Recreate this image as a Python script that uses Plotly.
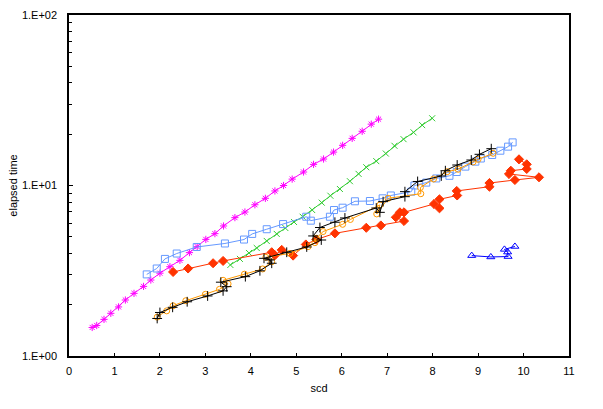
import plotly.graph_objects as go

# ---- data ----
magenta_x = [0.51, 0.61, 0.77, 0.92, 1.09, 1.24, 1.43, 1.64, 1.80, 2.00, 2.22, 2.44, 2.65, 2.82, 3.01,
             3.21, 3.40, 3.65, 3.87, 4.09, 4.32, 4.53, 4.72, 4.91, 5.16, 5.38, 5.60, 5.82, 6.02, 6.23,
             6.45, 6.65, 6.81]
magenta_y = [1.47, 1.51, 1.64, 1.78, 1.94, 2.13, 2.33, 2.56, 2.79, 3.06, 3.34, 3.64, 4.04, 4.38, 4.83,
             5.22, 5.79, 6.48, 6.99, 7.71, 8.41, 9.29, 10.0, 10.9, 12.0, 13.3, 14.3, 15.7, 17.2, 18.9,
             20.8, 22.9, 24.5]

green_x = [3.55, 3.76, 3.96, 4.13, 4.35, 4.57, 4.76, 4.95, 5.14, 5.35, 5.56, 5.75, 5.96, 6.18, 6.37,
           6.54, 6.76, 6.97, 7.16, 7.36, 7.58, 7.77, 7.99]
green_y = [3.42, 3.71, 4.02, 4.30, 4.73, 5.20, 5.63, 6.11, 6.56, 7.18, 7.93, 8.71, 9.54, 10.6, 11.7,
           12.8, 13.9, 15.4, 17.1, 18.7, 20.5, 22.6, 24.8]

lblue_x = [1.71, 1.93, 2.11, 2.37, 2.81, 3.43, 3.85, 4.03, 4.35, 4.71, 5.22, 5.32, 5.74, 5.83, 6.02,
           6.29, 6.62, 6.90, 7.08, 7.53, 7.60, 7.86, 8.08, 8.37, 8.53, 8.72, 8.94, 9.06, 9.31, 9.49,
           9.66, 9.76]
lblue_y = [3.01, 3.26, 3.71, 3.99, 4.36, 4.57, 4.82, 5.20, 5.54, 5.94, 6.56, 6.22, 6.56, 7.18, 7.41,
           8.08, 8.11, 8.41, 8.74, 9.20, 10.0, 10.4, 11.0, 11.4, 12.0, 12.9, 13.8, 14.4, 15.1, 16.0,
           16.9, 17.9]

black_x = [1.94, 2.00, 2.28, 2.60, 3.05, 3.39, 3.47, 3.34, 3.88, 4.20, 4.46, 4.42, 4.29, 4.79, 5.23,
           5.55, 5.37, 5.52, 5.85, 6.07, 6.76, 6.84, 6.91, 7.39, 7.39, 7.67, 8.19, 8.28, 8.54, 8.85,
           9.03, 9.29]
black_y = [1.66, 1.80, 1.93, 2.08, 2.25, 2.41, 2.55, 2.71, 2.92, 3.16, 3.50, 3.66, 3.74, 4.06, 4.36,
           4.79, 5.06, 5.67, 6.09, 6.45, 7.38, 6.96, 8.04, 8.60, 9.20, 10.56, 11.37, 12.21, 13.19, 14.11,
           15.24, 16.44]

orange_x = [1.94, 2.15, 2.29, 2.57, 3.00, 3.31, 3.50, 3.39, 3.86, 4.26, 4.46, 4.33, 4.86, 5.26, 5.41,
            5.44, 5.59, 6.02, 6.19, 6.84, 6.77, 7.02, 7.74, 7.73, 8.02, 8.32, 8.56, 8.89, 9.00, 9.33]
orange_y = [1.69, 1.84, 1.97, 2.11, 2.30, 2.46, 2.65, 2.78, 3.02, 3.24, 3.57, 3.79, 4.00, 4.38, 4.62,
            4.90, 5.37, 5.92, 6.32, 7.69, 6.81, 8.41, 8.95, 9.73, 10.92, 12.05, 12.45, 13.74, 14.25, 15.45]

red_x = [2.29, 2.62, 3.17, 3.39, 4.46, 4.53, 4.68, 4.93, 5.21, 5.44, 5.85, 6.54, 6.86, 7.37, 7.19,
         7.28, 7.37, 8.03, 8.15, 8.15, 8.54, 8.53, 9.25, 9.25, 9.81, 10.34, 9.68, 9.72, 10.07, 10.07, 9.90]
red_y = [3.11, 3.26, 3.50, 3.61, 4.06, 3.90, 4.19, 3.88, 4.51, 4.82, 5.24, 5.65, 5.83, 6.19, 6.51,
         6.96, 6.96, 7.79, 7.35, 8.30, 8.74, 9.29, 9.84, 10.34, 10.77, 11.17, 11.68, 12.21, 12.50, 13.31, 14.24]

blue_x = [8.86, 9.28, 9.66, 9.65, 9.58, 9.81]
blue_y = [3.88, 3.81, 3.83, 4.07, 4.22, 4.39]

x_ticks = [0, 1, 2, 3, 4, 5, 6, 7, 8, 9, 10, 11]
y_tickvals = [1, 10, 100]
y_ticktext = ["1.E+00", "1.E+01", "1.E+02"]
y_minor = [2, 3, 4, 5, 6, 7, 8, 9, 20, 30, 40, 50, 60, 70, 80, 90]

series = [
    (magenta_x, magenta_y, "#FF00FF", "asterisk-open", 6),
    (green_x, green_y, "#33CC33", "x-thin-open", 6),
    (lblue_x, lblue_y, "#6699FF", "square-open", 7),
    (red_x, red_y, "#FF3300", "diamond", 7),
    (orange_x, orange_y, "#FF9900", "circle-open", 6),
    (black_x, black_y, "#000000", "cross-thin-open", 7),
    (blue_x, blue_y, "#0000FF", "triangle-up-open", 7),
]

fig = go.Figure()
for xs, ys, col, sym, sz in series:
    fig.add_trace(go.Scatter(
        x=xs, y=ys, mode="lines+markers",
        line=dict(color=col, width=1),
        marker=dict(symbol=sym, size=sz, color=col, line=dict(color=col, width=1)),
        showlegend=False,
    ))

font = dict(family="Arial, Liberation Sans, sans-serif", size=11, color="black")
fig.update_layout(
    width=603, height=409,
    margin=dict(l=69, r=34, t=15, b=53),
    paper_bgcolor="white", plot_bgcolor="white",
    font=font,
    xaxis=dict(
        range=[0, 11], tickvals=x_ticks, ticks="inside", ticklen=3, tickcolor="black",
        showline=True, linecolor="black", linewidth=1.5, mirror=True, showgrid=False, zeroline=False,
        ticklabelstandoff=4, automargin=False,
        title=dict(text="scd", font=font, standoff=8),
    ),
    yaxis=dict(
        type="log", range=[0, 2], tickvals=y_tickvals, ticktext=y_ticktext,
        ticks="inside", ticklen=4, tickcolor="black",
        minor=dict(tickvals=y_minor, ticks="inside", ticklen=3, tickcolor="black", showgrid=False),
        showline=True, linecolor="black", linewidth=1.5, mirror=True, showgrid=False, zeroline=False,
        ticklabelstandoff=8, automargin=False,
        title=dict(text="elapsed time", font=font, standoff=2),
    ),
)
fig.write_html("out.html")
